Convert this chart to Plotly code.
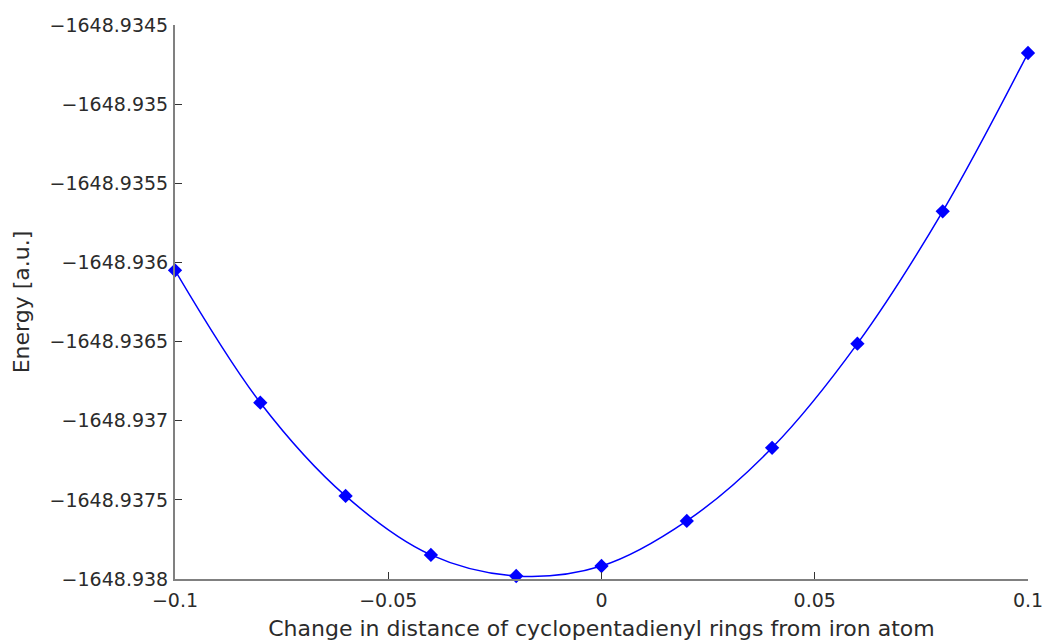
import plotly.graph_objects as go

distance = [-0.1, -0.08, -0.06, -0.04, -0.02, 0.0, 0.02, 0.04, 0.06, 0.08, 0.1]
energy = [-1648.93605, -1648.936886, -1648.937475, -1648.937848, -1648.937981,
          -1648.937918, -1648.937633, -1648.937171, -1648.936513, -1648.935677,
          -1648.934677]

x_tickvals = [-0.1, -0.05, 0, 0.05, 0.1]
x_ticktext = ["\u22120.1", "\u22120.05", "0", "0.05", "0.1"]
y_tickvals = [-1648.9345, -1648.935, -1648.9355, -1648.936, -1648.9365,
              -1648.937, -1648.9375, -1648.938]
y_ticktext = ["\u22121648.9345", "\u22121648.935", "\u22121648.9355", "\u22121648.936",
              "\u22121648.9365", "\u22121648.937", "\u22121648.9375", "\u22121648.938"]

fig = go.Figure()
fig.add_trace(go.Scatter(
    x=distance, y=energy, mode="lines+markers",
    line=dict(color="#0000ff", width=1.5, shape="spline", smoothing=1.0),
    marker=dict(symbol="diamond", size=11, color="#0000ff"),
    cliponaxis=False, showlegend=False,
))

tick_font = dict(family="DejaVu Sans", size=19, color="#2b2b2b")
title_font = dict(family="DejaVu Sans", size=22, color="#2b2b2b")
fig.update_layout(
    width=1047, height=644,
    margin=dict(l=175, r=19, t=25, b=65, autoexpand=False),
    paper_bgcolor="white", plot_bgcolor="white",
    font=tick_font,
)
fig.update_xaxes(
    range=[-0.1, 0.1], tickvals=x_tickvals, ticktext=x_ticktext, tickfont=tick_font,
    showgrid=False, zeroline=False, showline=True, linecolor="#808080", linewidth=2,
    ticks="inside", ticklen=7, tickcolor="#333333", tickwidth=1, ticklabelstandoff=3,
    automargin=False,
    title=dict(text="Change in distance of cyclopentadienyl rings from iron atom", standoff=11,
               font=title_font),
)
fig.update_yaxes(
    range=[-1648.938, -1648.9345], tickvals=y_tickvals, ticktext=y_ticktext, tickfont=tick_font,
    showgrid=False, zeroline=False, showline=True, linecolor="#808080", linewidth=2,
    ticks="inside", ticklen=7, tickcolor="#333333", tickwidth=1, ticklabelstandoff=1,
    automargin=False,
    title=dict(text="Energy [a.u.]", standoff=14, font=title_font),
)
fig.write_html("out.html")
